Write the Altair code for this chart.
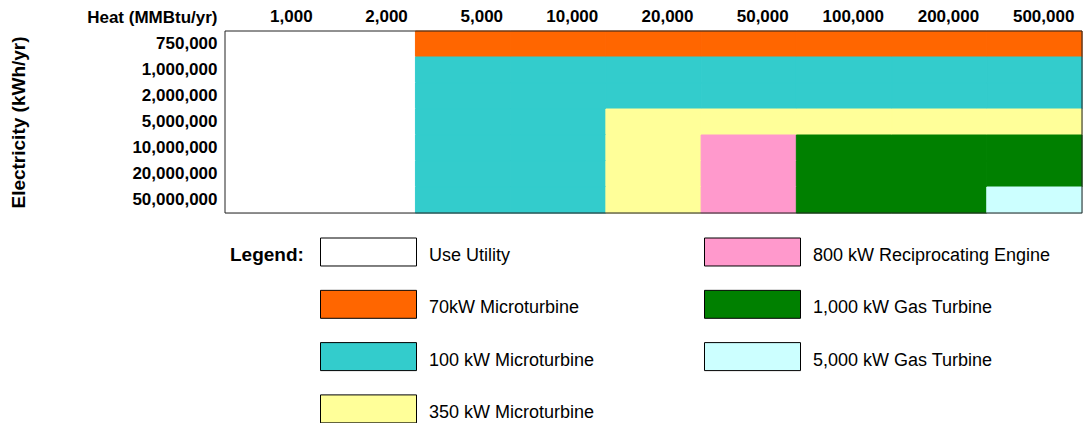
import altair as alt
import pandas as pd

# ---- data ----
heat_labels = ["1,000", "2,000", "5,000", "10,000", "20,000", "50,000",
               "100,000", "200,000", "500,000"]
elec_labels = ["750,000", "1,000,000", "2,000,000", "5,000,000",
               "10,000,000", "20,000,000", "50,000,000"]

tech_names = ["Use Utility", "70kW Microturbine", "100 kW Microturbine",
              "350 kW Microturbine", "800 kW Reciprocating Engine",
              "1,000 kW Gas Turbine", "5,000 kW Gas Turbine"]
tech_colors = ["#FFFFFF", "#FF6600", "#33CCCC", "#FFFF99", "#FF99CC",
               "#008000", "#CCFFFF"]

# technology index chosen for each electricity row (left -> right over heat)
row_750k = [0, 0, 1, 1, 1, 1, 1, 1, 1]
row_1m = [0, 0, 2, 2, 2, 2, 2, 2, 2]
row_2m = [0, 0, 2, 2, 2, 2, 2, 2, 2]
row_5m = [0, 0, 2, 2, 3, 3, 3, 3, 3]
row_10m = [0, 0, 2, 2, 3, 4, 5, 5, 5]
row_20m = [0, 0, 2, 2, 3, 4, 5, 5, 5]
row_50m = [0, 0, 2, 2, 3, 4, 5, 5, 6]

rows = [row_750k, row_1m, row_2m, row_5m, row_10m, row_20m, row_50m]
records = []
for e, row in zip(elec_labels, rows):
    for h, t in zip(heat_labels, row):
        records.append({"Heat": h, "Electricity": e, "Tech": tech_names[t]})
df = pd.DataFrame(records)

FONT = "Liberation Sans"
W, H = 857, 182

color_scale = alt.Scale(domain=tech_names, range=tech_colors)
# same colours for the cell outlines (hides seams); listed in reverse so that
# this scale is kept apart from the legend's
stroke_scale = alt.Scale(domain=tech_names[::-1], range=tech_colors[::-1])

# wide legend swatch, drawn a little above the label's middle line
swatch_path = "M-1,-0.375H1V0.2083H-1Z"

cells = alt.Chart(df).mark_rect(strokeWidth=1).encode(
    x=alt.X("Heat:N", sort=heat_labels,
            scale=alt.Scale(paddingInner=0, paddingOuter=0),
            axis=alt.Axis(orient="top", title="Heat (MMBtu/yr)", labelAngle=0,
                          ticks=False, domain=False, grid=False,
                          labelFont=FONT, labelFontSize=17, labelFontWeight="bold",
                          labelColor="black", labelPadding=6,
                          labelAlign="right", labelOffset=40,
                          titleFont=FONT, titleFontSize=17, titleFontWeight="bold",
                          titleColor="black", titleX=-8, titleY=-5,
                          titleAlign="right", titleBaseline="bottom", titleAngle=0)),
    y=alt.Y("Electricity:N", sort=elec_labels,
            scale=alt.Scale(paddingInner=0, paddingOuter=0),
            axis=alt.Axis(title="Electricity (kWh/yr)", ticks=False, domain=False,
                          grid=False, labelFont=FONT, labelFontSize=17,
                          labelFontWeight="bold", labelColor="black", labelPadding=8,
                          titleFont=FONT, titleFontSize=19, titleFontWeight="bold",
                          titleColor="black", titleX=-207, titleY=91, titleAngle=270,
                          titleAlign="center", titleBaseline="middle")),
    color=alt.Color("Tech:N", scale=color_scale,
                    legend=alt.Legend(
                        title="Legend:", orient="none", legendX=5, legendY=206,
                        columns=2, padding=0, clipHeight=38,
                        symbolType=swatch_path, symbolSize=9216,
                        symbolStrokeColor="black", symbolStrokeWidth=1,
                        symbolOpacity=1,
                        labelFont=FONT, labelFontSize=18, labelColor="black",
                        labelLimit=400, labelOffset=12,
                        titleOrient="left", titleAnchor="start", titleFont=FONT,
                        titleFontSize=19, titleFontWeight="bold", titleColor="black",
                        titlePadding=16, titleBaseline="line-top",
                        titleLineHeight=36,
                        rowPadding=14.3, columnPadding=109)),
    stroke=alt.Stroke("Tech:N", scale=stroke_scale, legend=None),
)

frame = alt.Chart(alt.Data(values=[{}])).mark_rect(
    filled=False, stroke="#222222", strokeWidth=1
).encode(x=alt.value(0), x2=alt.value(W), y=alt.value(0), y2=alt.value(H))

chart = alt.layer(cells, frame).properties(
    width=W, height=H,
    autosize=alt.AutoSizeParams(type="none"),
    padding={"left": 217, "top": 23, "right": 1, "bottom": 210},
).configure_view(strokeWidth=0).configure(background="white")

chart.save("out.html", embed_options={"renderer": "svg", "actions": False})
